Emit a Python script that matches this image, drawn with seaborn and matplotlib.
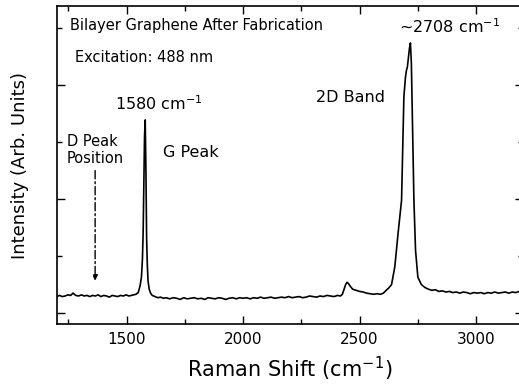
import matplotlib
matplotlib.use("Agg")
import matplotlib.pyplot as plt
import seaborn as sns
import pandas as pd
from matplotlib.ticker import MultipleLocator, NullFormatter

# Raman shift (cm^-1) and intensity (arb. units)
shift = [1200, 1212, 1224, 1236, 1248, 1260, 1270, 1282, 1294, 1306, 1318, 1330,
         1342, 1354, 1366, 1378, 1390, 1402, 1414, 1426, 1438, 1450, 1462, 1474,
         1486, 1498, 1510, 1520, 1530, 1540, 1550, 1558, 1564, 1568, 1571, 1574,
         1577, 1580, 1583, 1586, 1589, 1592, 1597, 1603, 1610, 1622, 1634, 1646,
         1658, 1670, 1685, 1700, 1715, 1730, 1745, 1760, 1775, 1790, 1805, 1820,
         1835, 1850, 1865, 1880, 1895, 1910, 1925, 1940, 1955, 1970, 1985, 2000,
         2015, 2030, 2045, 2060, 2075, 2090, 2105, 2120, 2135, 2150, 2165, 2180,
         2195, 2210, 2225, 2240, 2255, 2270, 2285, 2300, 2315, 2330, 2345, 2360,
         2375, 2390, 2405, 2418, 2426, 2434, 2440, 2446, 2452, 2460, 2470, 2485,
         2500, 2515, 2530, 2545, 2560, 2575, 2590, 2602, 2614, 2625, 2637, 2651,
         2665, 2680, 2690, 2697, 2701, 2705, 2710, 2714, 2718, 2722, 2726, 2733,
         2740, 2750, 2765, 2780, 2795, 2810, 2825, 2840, 2855, 2870, 2885, 2900,
         2915, 2930, 2945, 2960, 2975, 2990, 3005, 3020, 3035, 3050, 3065, 3080,
         3095, 3110, 3125, 3140, 3155, 3170, 3185, 3200]
intensity = [0.29, 0.31, 0.29, 0.30, 0.32, 0.31, 0.35, 0.31, 0.30, 0.32, 0.30, 0.31,
             0.29, 0.31, 0.30, 0.32, 0.29, 0.31, 0.30, 0.28, 0.31, 0.30, 0.29, 0.31,
             0.30, 0.32, 0.30, 0.31, 0.32, 0.33, 0.36, 0.48, 0.64, 0.95, 1.40, 2.20,
             3.10, 3.39, 2.50, 1.30, 0.85, 0.57, 0.42, 0.35, 0.31, 0.29, 0.27, 0.28,
             0.26, 0.27, 0.25, 0.27, 0.26, 0.24, 0.27, 0.25, 0.26, 0.27, 0.25, 0.26,
             0.24, 0.27, 0.26, 0.25, 0.27, 0.26, 0.24, 0.26, 0.27, 0.25, 0.27, 0.26,
             0.27, 0.25, 0.27, 0.26, 0.28, 0.26, 0.27, 0.28, 0.26, 0.27, 0.28, 0.27,
             0.29, 0.27, 0.28, 0.29, 0.27, 0.28, 0.30, 0.29, 0.28, 0.30, 0.29, 0.31,
             0.30, 0.29, 0.31, 0.30, 0.33, 0.43, 0.50, 0.54, 0.52, 0.47, 0.42, 0.40,
             0.38, 0.37, 0.35, 0.34, 0.33, 0.34, 0.33, 0.35, 0.40, 0.44, 0.50, 0.81,
             1.40, 1.98, 3.80, 4.15, 4.26, 4.32, 4.50, 4.65, 4.74, 4.40, 3.50, 1.98,
             1.10, 0.63, 0.50, 0.45, 0.42, 0.40, 0.41, 0.38, 0.39, 0.37, 0.38, 0.36,
             0.37, 0.35, 0.37, 0.36, 0.34, 0.36, 0.35, 0.36, 0.34, 0.36, 0.35, 0.37,
             0.35, 0.36, 0.37, 0.35, 0.37, 0.36, 0.38, 0.37]

x_major = [1500, 2000, 2500, 3000]

sns.set_theme(style="ticks")
plt.rcParams['font.family'] = ['DejaVu Sans']

fig = plt.figure(figsize=(5.19, 3.84), dpi=100)
ax = fig.add_axes([0.1092, 0.156, 0.898, 0.828])

df = pd.DataFrame({"shift": shift, "intensity": intensity})
sns.lineplot(data=df, x="shift", y="intensity", ax=ax, color="black", lw=1.2)

ax.set_xlim(1200, 3200)
ax.set_ylim(-0.193, 5.386)
ax.set_xticks(x_major)
ax.xaxis.set_minor_locator(MultipleLocator(250))
ax.yaxis.set_major_locator(MultipleLocator(2))
ax.yaxis.set_minor_locator(MultipleLocator(1))
ax.yaxis.set_major_formatter(NullFormatter())
ax.tick_params(which="both", direction="in", top=True, right=True, color="black",
               width=1.0, labelsize=11, labelcolor="black", pad=6)
ax.tick_params(which="major", length=6)
ax.tick_params(which="minor", length=3.5)
for s in ax.spines.values():
    s.set_color("black")
    s.set_linewidth(1.2)

ax.set_xlabel("Raman Shift (cm$^{-1}$)", fontsize=15, color="black", labelpad=5)
ax.set_ylabel("Intensity (Arb. Units)", fontsize=13, color="black", labelpad=14)

ann = dict(color="black", fontsize=10.5)
lab = dict(color="black", fontsize=11.5)
ax.text(1257, 5.05, "Bilayer Graphene After Fabrication", ha="left", va="center", **ann)
ax.text(1278, 4.49, "Excitation: 488 nm", ha="left", va="center", **ann)
ax.text(1450, 3.68, "1580 cm$^{-1}$", ha="left", va="center", **lab)
ax.text(1244, 2.86, "D Peak\nPosition", ha="left", va="center", linespacing=1.15, **ann)
ax.text(1655, 2.82, "G Peak", ha="left", va="center", **lab)
ax.text(2311, 3.79, "2D Band", ha="left", va="center", **lab)
ax.text(2671, 5.02, "~2708 cm$^{-1}$", ha="left", va="center", **lab)
ax.annotate("", xy=(1365, 0.52), xytext=(1365, 2.55),
            arrowprops=dict(arrowstyle="-|>", linestyle=(0, (6, 2, 1.5, 2)),
                            color="black", lw=1.0, mutation_scale=8))

fig.savefig("out.png", dpi=100)
